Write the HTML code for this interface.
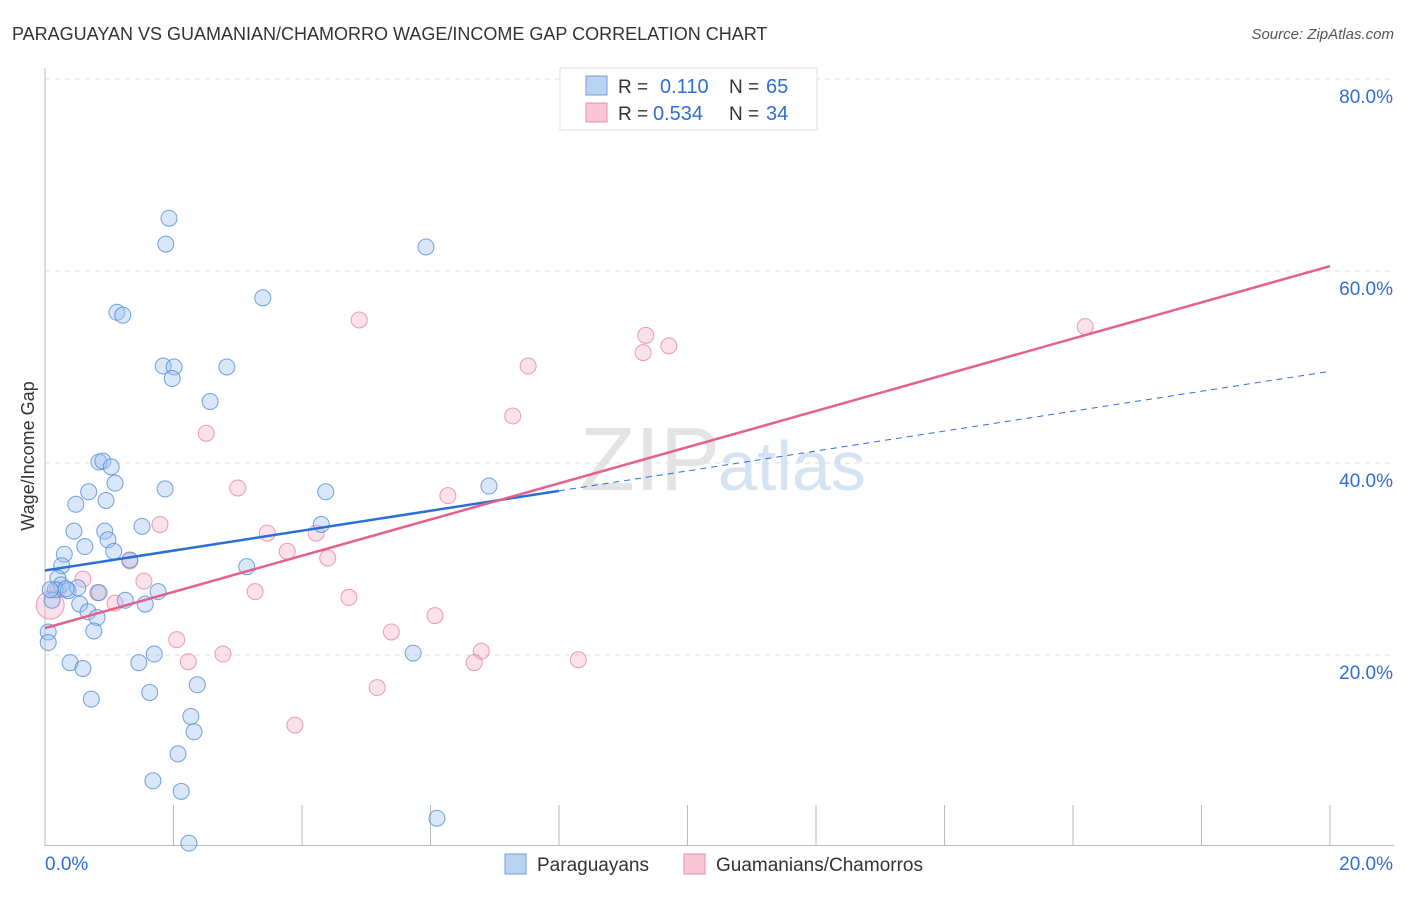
<!DOCTYPE html>
<html><head><meta charset="utf-8"><style>
body{margin:0;background:#fff;font-family:"Liberation Sans",sans-serif;}
svg text{font-family:"Liberation Sans",sans-serif;}
</style></head><body>
<svg id="chart" width="1406" height="892" xmlns="http://www.w3.org/2000/svg">
<text x="12" y="40" font-size="18" fill="#333">PARAGUAYAN VS GUAMANIAN/CHAMORRO WAGE/INCOME GAP CORRELATION CHART</text>
<text x="1394" y="39" font-size="15" fill="#555" font-style="italic" text-anchor="end">Source: ZipAtlas.com</text>
<text x="720" y="490" font-size="90" fill="#e4e4e4" text-anchor="end" font-family="Liberation Serif">ZIP</text>
<text x="718" y="490" font-size="70" fill="#d6e3f3">atlas</text>
<text transform="translate(34,456) rotate(-90)" font-size="18" fill="#333" text-anchor="middle">Wage/Income Gap</text>
<g id="grid"></g><g id="axes"></g><g id="marks"></g>
<g>
<rect x="560" y="68" width="257" height="62" fill="#fff" stroke="#ddd"/>
<rect x="586" y="76" width="21" height="19" fill="#b9d3f3" stroke="#6e9fde"/>
<rect x="586" y="103" width="21" height="19" fill="#f8c6d5" stroke="#e98fae"/>
<text x="618" y="93" font-size="19" fill="#333">R = </text><text x="660" y="93" font-size="20" fill="#2f6fd0">0.110</text>
<text x="729" y="93" font-size="19" fill="#333">N = </text><text x="766" y="93" font-size="20" fill="#2f6fd0">65</text>
<text x="618" y="120" font-size="19" fill="#333">R = </text><text x="653" y="120" font-size="20" fill="#2f6fd0">0.534</text>
<text x="729" y="120" font-size="19" fill="#333">N = </text><text x="766" y="120" font-size="20" fill="#2f6fd0">34</text>
</g>
<g>
<rect x="505" y="854" width="21" height="20" fill="#b9d3f3" stroke="#6e9fde"/>
<text x="537" y="871" font-size="19" fill="#333">Paraguayans</text>
<rect x="684" y="854" width="21" height="20" fill="#f8c6d5" stroke="#e98fae"/>
<text x="716" y="871" font-size="19" fill="#333">Guamanians/Chamorros</text>
</g>
</svg>
<script>
const blueX=[1.93,1.88,5.93,3.39,1.12,1.21,1.84,2.01,2.83,1.98,2.57,0.84,0.90,1.03,1.09,0.68,1.87,4.37,6.91,0.48,0.95,1.51,0.45,0.93,4.30,0.98,0.62,0.30,1.07,1.32,0.26,3.14,0.20,0.25,0.16,0.36,0.51,0.84,1.76,0.11,0.54,1.25,1.56,0.67,0.81,0.76,0.05,0.05,1.70,5.73,0.39,0.59,1.46,2.37,1.63,0.72,2.27,2.32,2.07,1.68,2.12,6.10,2.24,0.08,0.33];
const blueY=[65.5,62.8,62.5,57.2,55.7,55.4,50.1,50.0,50.0,48.8,46.4,40.1,40.2,39.6,37.9,37.0,37.3,37.0,37.6,35.7,36.1,33.4,32.9,32.9,33.6,32.0,31.3,30.5,30.8,29.9,29.3,29.2,28.0,27.3,26.8,26.7,27.0,26.5,26.6,25.7,25.3,25.7,25.3,24.5,23.9,22.5,22.4,21.3,20.1,20.2,19.2,18.6,19.2,16.9,16.1,15.4,13.6,12.0,9.7,6.9,5.8,3.0,0.4,26.8,26.9];
const pinkX=[0.08,16.19,4.89,9.35,9.71,9.31,7.52,7.28,2.51,3.00,6.27,1.79,3.46,3.77,4.22,4.40,1.32,0.59,1.54,0.82,3.27,4.73,1.09,6.07,5.39,2.05,6.79,2.77,2.23,6.68,8.30,5.17,3.89,0.20];
const pinkY=[25.2,54.2,54.9,53.3,52.2,51.5,50.1,44.9,43.1,37.4,36.6,33.6,32.7,30.8,32.7,30.1,29.8,27.9,27.7,26.5,26.6,26.0,25.4,24.1,22.4,21.6,20.4,20.1,19.3,19.2,19.5,16.6,12.7,26.8];
const yTicks=[20,40,60,80];
const xTickVals=[0,2,4,6,8,10,12,14,16,18,20];
const blueFit=[28.8,1.0375]; // intercept, slope
const pinkFit=[22.8,1.885];
const blueSolidEnd=8;

const X=v=>45+v*64.25, Y=v=>847-v*9.6;
const NS='http://www.w3.org/2000/svg';
function mk(tag,attrs,parent){const e=document.createElementNS(NS,tag);for(const k in attrs)e.setAttribute(k,attrs[k]);document.getElementById(parent).appendChild(e);return e;}
yTicks.forEach(t=>{
  const l=mk('line',{x1:45,x2:1394,y1:Y(t),y2:Y(t),stroke:'#ddd','stroke-dasharray':'5,5'},'grid');
  
  
  const tx=mk('text',{x:1393,y:Y(t)+24,'font-size':19,fill:'#2f6fd0','text-anchor':'end'},'grid');
  tx.textContent=t.toFixed(1)+'%';
  
  
});
let a=mk('line',{x1:45,x2:45,y1:68,y2:846,stroke:'#bbb'},'axes');


a=mk('line',{x1:45,x2:1394,y1:845.5,y2:845.5,stroke:'#bbb'},'axes');


xTickVals.forEach(t=>{
  const l=mk('line',{x1:X(t),x2:X(t),y1:805,y2:846,stroke:'#bbb'},'axes');
  
  
});
[[0,'start',45],[20,'end',1393]].forEach(([v,anc,px])=>{
  const tx=mk('text',{x:px,y:870,'font-size':19,fill:'#2f6fd0','text-anchor':anc},'axes');
  tx.textContent=v.toFixed(1)+'%';
  
  
});
pinkX.forEach((x,i)=>{
  const c=mk('circle',{cx:X(x),cy:Y(pinkY[i]),r:i===0?14:8,fill:'rgba(244,170,196,0.35)',stroke:'rgba(232,130,165,0.8)','stroke-width':1},'marks');
  
  
});
blueX.forEach((x,i)=>{
  const c=mk('circle',{cx:X(x),cy:Y(blueY[i]),r:8,fill:'rgba(160,196,240,0.4)',stroke:'rgba(80,140,215,0.8)','stroke-width':1},'marks');
  
  
});
let t=mk('line',{x1:X(0),y1:Y(blueFit[0]),x2:X(blueSolidEnd),y2:Y(blueFit[0]+blueFit[1]*blueSolidEnd),stroke:'#2a6fd6','stroke-width':2.5},'marks');


t=mk('line',{x1:X(blueSolidEnd),y1:Y(blueFit[0]+blueFit[1]*blueSolidEnd),x2:X(20),y2:Y(blueFit[0]+blueFit[1]*20),stroke:'#2a6fd6','stroke-width':1,'stroke-dasharray':'6,5'},'marks');


t=mk('line',{x1:X(0),y1:Y(pinkFit[0]),x2:X(20),y2:Y(pinkFit[0]+pinkFit[1]*20),stroke:'#e5608d','stroke-width':2.5},'marks');


</script>
</body></html>
